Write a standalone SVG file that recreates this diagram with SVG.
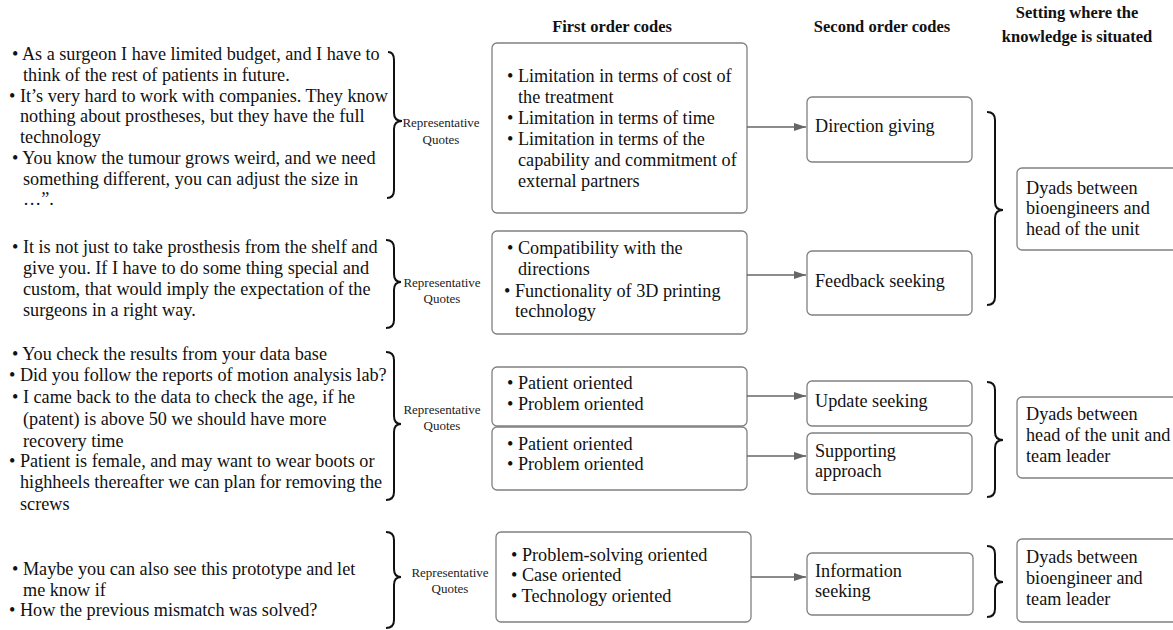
<svg xmlns="http://www.w3.org/2000/svg" width="1173" height="630" viewBox="0 0 1173 630">
<style>
text{font-family:"Liberation Serif","Times New Roman",serif;fill:#111}
.q{font-size:18.2px}
.b{font-size:18.2px}
.rq{font-size:13px;text-anchor:middle;fill:#222}
.h{font-size:16.5px;font-weight:bold;text-anchor:middle}
.box{fill:#fff;stroke:#808080;stroke-width:1.3}
.br{fill:none;stroke:#111;stroke-width:2}
.ar{stroke:#666;stroke-width:1.6;fill:none}
</style>
<defs>
<marker id="ah" viewBox="0 0 12 10" refX="12" refY="5" markerWidth="12" markerHeight="10" markerUnits="userSpaceOnUse" orient="auto">
<path d="M0,1 L12,5 L0,9 Z" fill="#666"/>
</marker>
</defs>
<rect width="1173" height="630" fill="#fff"/>

<g id="headers">
<text class="h" x="612" y="32">First order codes</text>
<text class="h" x="882" y="32">Second order codes</text>
<text class="h" x="1077" y="18">Setting where the</text>
<text class="h" x="1077" y="42">knowledge is situated</text>
</g>

<g id="quotes1">
<text class="q" x="12" y="60">• As a surgeon I have limited budget, and I have to</text>
<text class="q" x="23" y="81">think of the rest of patients in future.</text>
<text class="q" x="9" y="102">• It’s very hard to work with companies. They know</text>
<text class="q" x="20" y="122">nothing about prostheses, but they have the full</text>
<text class="q" x="20" y="143">technology</text>
<text class="q" x="12" y="164">• You know the tumour grows weird, and we need</text>
<text class="q" x="23" y="185">something different, you can adjust the size in</text>
<text class="q" x="23" y="205">…”.</text>
<path class="br" d="M388,52 Q394,52 394,60 L394,113 Q394,121 402,121 Q394,121 394,129 L394,190 Q394,198 387,198"/>
<text class="rq" x="441" y="127">Representative</text>
<text class="rq" x="441" y="144">Quotes</text>
</g>

<g id="quotes2">
<text class="q" x="12" y="253">• It is not just to take prosthesis from the shelf and</text>
<text class="q" x="23" y="274">give you. If I have to do some thing special and</text>
<text class="q" x="23" y="295">custom, that would imply the expectation of the</text>
<text class="q" x="23" y="316">surgeons in a right way.</text>
<path class="br" d="M386,240 Q394,240 394,248 L394,274 Q394,282 401,282 Q394,282 394,290 L394,320 Q394,328 386,328"/>
<text class="rq" x="442" y="287">Representative</text>
<text class="rq" x="442" y="303">Quotes</text>
</g>

<g id="quotes3">
<text class="q" x="12" y="360">• You check the results from your data base</text>
<text class="q" x="9" y="381">• Did you follow the reports of motion analysis lab?</text>
<text class="q" x="12" y="403">• I came back to the data to check the age, if he</text>
<text class="q" x="23" y="425">(patent) is above 50 we should have more</text>
<text class="q" x="23" y="447">recovery time</text>
<text class="q" x="9" y="467">• Patient is female, and may want to wear boots or</text>
<text class="q" x="20" y="488">highheels thereafter we can plan for removing the</text>
<text class="q" x="20" y="510">screws</text>
<path class="br" d="M386,352 Q394,352 394,360 L394,416 Q394,424 401,424 Q394,424 394,432 L394,492 Q394,500 386,500"/>
<text class="rq" x="442" y="414">Representative</text>
<text class="rq" x="442" y="430">Quotes</text>
</g>

<g id="quotes4">
<text class="q" x="12" y="575">• Maybe you can also see this prototype and let</text>
<text class="q" x="23" y="596">me know if</text>
<text class="q" x="9" y="616">• How the previous mismatch was solved?</text>
<path class="br" d="M386,532 Q394,532 394,540 L394,569 Q394,577 401,577 Q394,577 394,585 L394,620 Q394,628 386,628"/>
<text class="rq" x="450" y="577">Representative</text>
<text class="rq" x="450" y="593">Quotes</text>
</g>

<g id="first1">
<rect class="box" x="492" y="43" width="255" height="170" rx="5"/>
<text class="b" x="507" y="82">• Limitation in terms of cost of</text>
<text class="b" x="518" y="103">the treatment</text>
<text class="b" x="507" y="124">• Limitation in terms of time</text>
<text class="b" x="507" y="145">• Limitation in terms of the</text>
<text class="b" x="518" y="166">capability and commitment of</text>
<text class="b" x="518" y="187">external partners</text>
</g>
<g id="first2">
<rect class="box" x="492" y="231" width="255" height="103" rx="5"/>
<text class="b" x="507" y="254">• Compatibility with the</text>
<text class="b" x="518" y="275">directions</text>
<text class="b" x="504" y="297">• Functionality of 3D printing</text>
<text class="b" x="515" y="317">technology</text>
</g>
<g id="first3">
<rect class="box" x="492" y="367" width="255" height="59" rx="5"/>
<text class="b" x="507" y="389">• Patient oriented</text>
<text class="b" x="507" y="410">• Problem oriented</text>
</g>
<g id="first4">
<rect class="box" x="492" y="427" width="255" height="63" rx="5"/>
<text class="b" x="507" y="450">• Patient oriented</text>
<text class="b" x="507" y="470">• Problem oriented</text>
</g>
<g id="first5">
<rect class="box" x="496" y="532" width="255" height="90" rx="5"/>
<text class="b" x="511" y="561">• Problem-solving oriented</text>
<text class="b" x="511" y="581">• Case oriented</text>
<text class="b" x="511" y="602">• Technology oriented</text>
</g>

<g id="second1">
<rect class="box" x="807" y="97" width="165" height="65" rx="5"/>
<text class="b" x="815" y="132">Direction giving</text>
</g>
<g id="second2">
<rect class="box" x="807" y="251" width="165" height="64" rx="5"/>
<text class="b" x="815" y="287">Feedback seeking</text>
</g>
<g id="second3">
<rect class="box" x="807" y="381" width="165" height="45" rx="5"/>
<text class="b" x="815" y="407">Update seeking</text>
</g>
<g id="second4">
<rect class="box" x="807" y="433" width="165" height="61" rx="5"/>
<text class="b" x="815" y="457">Supporting</text>
<text class="b" x="815" y="477">approach</text>
</g>
<g id="second5">
<rect class="box" x="807" y="553" width="166" height="62" rx="5"/>
<text class="b" x="815" y="577">Information</text>
<text class="b" x="815" y="597">seeking</text>
</g>

<g id="setting1">
<path class="br" d="M987,112 Q995,112 995,120 L995,202 Q995,210 1003,210 Q995,210 995,218 L995,297 Q995,305 987,305"/>
<rect class="box" x="1017" y="168" width="170" height="82" rx="5"/>
<text class="b" x="1026" y="194">Dyads between</text>
<text class="b" x="1026" y="214">bioengineers and</text>
<text class="b" x="1026" y="235">head of the unit</text>
</g>
<g id="setting2">
<path class="br" d="M987,382 Q995,382 995,390 L995,432 Q995,440 1003,440 Q995,440 995,448 L995,489 Q995,497 987,497"/>
<rect class="box" x="1017" y="397" width="170" height="81" rx="5"/>
<text class="b" x="1026" y="420">Dyads between</text>
<text class="b" x="1026" y="441">head of the unit and</text>
<text class="b" x="1026" y="462">team leader</text>
</g>
<g id="setting3">
<path class="br" d="M987,546 Q995,546 995,554 L995,574 Q995,582 1003,582 Q995,582 995,590 L995,609 Q995,617 987,617"/>
<rect class="box" x="1017" y="539" width="170" height="83" rx="5"/>
<text class="b" x="1026" y="563">Dyads between</text>
<text class="b" x="1026" y="584">bioengineer and</text>
<text class="b" x="1026" y="605">team leader</text>
</g>

<g id="connectors">
<line class="ar" x1="747" y1="127" x2="806" y2="127" marker-end="url(#ah)"/>
<line class="ar" x1="747" y1="275" x2="806" y2="275" marker-end="url(#ah)"/>
<line class="ar" x1="747" y1="396" x2="806" y2="396" marker-end="url(#ah)"/>
<line class="ar" x1="747" y1="456" x2="806" y2="456" marker-end="url(#ah)"/>
<line class="ar" x1="751" y1="577" x2="806" y2="577" marker-end="url(#ah)"/>
</g>
</svg>
